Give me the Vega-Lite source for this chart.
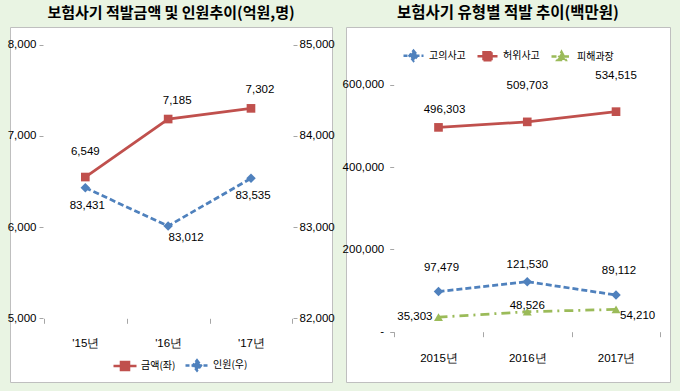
{
  "$schema": "https://vega.github.io/schema/vega-lite/v6.json",
  "padding": {"left": 6, "top": 5, "right": 11, "bottom": 8},
  "background": "#e9f4e3",
  "spacing": 14,
  "bounds": "flush",
  "resolve": {"scale": {"color": "independent"}, "legend": {"color": "independent"}},
  "datasets": {
    "left": [
      {"year": 2015, "series": "금액(좌)", "value": 6549},
      {"year": 2016, "series": "금액(좌)", "value": 7185},
      {"year": 2017, "series": "금액(좌)", "value": 7302},
      {"year": 2015, "series": "인원(우)", "value": 83431},
      {"year": 2016, "series": "인원(우)", "value": 83012},
      {"year": 2017, "series": "인원(우)", "value": 83535}
    ],
    "right": [
      {"year": 2015, "series": "고의사고", "value": 97479},
      {"year": 2016, "series": "고의사고", "value": 121530},
      {"year": 2017, "series": "고의사고", "value": 89112},
      {"year": 2015, "series": "허위사고", "value": 496303},
      {"year": 2016, "series": "허위사고", "value": 509703},
      {"year": 2017, "series": "허위사고", "value": 534515},
      {"year": 2015, "series": "피해과장", "value": 35303},
      {"year": 2016, "series": "피해과장", "value": 48526},
      {"year": 2017, "series": "피해과장", "value": 54210}
    ]
  },
  "config": {
    "view": {"fill": "white", "stroke": "#bfbfbf", "strokeWidth": 1},
    "axis": {
      "labelFont": "Liberation Sans",
      "labelFontSize": 11.5,
      "labelColor": "#000000",
      "domain": false,
      "grid": false,
      "tickColor": "#a6a6a6",
      "labelOverlap": false,
      "labelFlush": false
    },
    "text": {"font": "Liberation Sans", "fontSize": 11.5, "color": "#000000"},
    "legend": {"labelFont": "Noto Sans CJK KR", "labelFontSize": 10, "labelColor": "#000000"},
    "title": {"font": "Noto Sans CJK KR", "fontSize": 15, "fontWeight": "bold", "color": "#000000", "anchor": "middle"}
  },
  "hconcat": [
    {
      "width": 322,
      "height": 355,
      "title": {"text": "보험사기 적발금액 및 인원추이(억원,명)", "offset": 6, "fontSize": 15},
      "data": {"name": "left"},
      "layer": [
        {
          "transform": [{"filter": "datum.series === '금액(좌)'"}],
          "encoding": {
            "x": {"field": "year", "type": "quantitative",
              "scale": {"domain": [2014.091, 2017.978], "nice": false, "zero": false},
              "axis": {"orient": "bottom", "offset": -63.7, "values": [2014.5, 2015, 2015.5, 2016, 2016.5, 2017, 2017.5],
                "labelExpr": "datum.value % 1 === 0 ? \"'\" + substring(toString(datum.value), 2, 4) + '년' : ''",
                "tickSize": 5, "tickOpacity": {"condition": {"test": "datum.value % 1 === 0", "value": 0}, "value": 1},
                "labelPadding": 14, "title": null}},
            "y": {"field": "value", "type": "quantitative",
              "scale": {"domain": [4302, 8194], "nice": false, "zero": false},
              "axis": {"orient": "left", "offset": -33, "values": [5000, 6000, 7000, 8000], "format": ",.0f", "tickSize": 4, "labelPadding": 3, "title": null}}
          },
          "layer": [
            {"data": {"values": [{}]}, "mark": {"type": "rule", "color": "#a6a6a6", "strokeWidth": 1},
              "encoding": {"x": {"datum": 2014.5, "type": "quantitative"}, "y": {"datum": 5000, "type": "quantitative"}, "y2": {"datum": 8000}}},
            {"data": {"values": [{}]}, "mark": {"type": "rule", "color": "#a6a6a6", "strokeWidth": 1},
              "encoding": {"x": {"datum": 2017.5, "type": "quantitative"}, "y": {"datum": 5000, "type": "quantitative"}, "y2": {"datum": 8000}}},
            {"data": {"values": [{}]}, "mark": {"type": "rule", "color": "#a6a6a6", "strokeWidth": 1},
              "encoding": {"x": {"datum": 2014.5, "type": "quantitative"}, "x2": {"datum": 2017.5}, "y": {"datum": 5000, "type": "quantitative"}}},
            {"mark": {"type": "line", "strokeWidth": 2.75},
              "encoding": {"color": {"field": "series", "type": "nominal",
                "scale": {"domain": ["금액(좌)", "인원(우)"], "range": ["#c0504d", "#4f81bd"]},
                "legend": {"orient": "none", "legendX": 102, "legendY": 325, "direction": "horizontal", "title": null,
                  "symbolSize": 529, "labelOffset": 3, "columnPadding": 4,
                  "encode": {"symbols": {"update": {
                    "shape": {"signal": "datum.value === '금액(좌)' ? 'M-1,0H1M-0.35,-0.35H0.35V0.35H-0.35Z' : 'M-1,0H1M0,-0.45L0.35,0L0,0.45L-0.35,0Z'"},
                    "fill": {"signal": "datum.value === '금액(좌)' ? '#c0504d' : '#4f81bd'"},
                    "stroke": {"signal": "datum.value === '금액(좌)' ? '#c0504d' : '#4f81bd'"},
                    "strokeDash": {"signal": "datum.value === '금액(좌)' ? [1,0] : [4,2]"},
                    "strokeWidth": {"value": 2.5},
                    "opacity": {"value": 1}
                  }}}}}}},
            {"mark": {"type": "point", "shape": "square", "filled": true, "size": 75, "opacity": 1, "color": "#c0504d"}},
            {"transform": [{"filter": "datum.year === 2015"}],
              "mark": {"type": "text", "dy": -25},
              "encoding": {"text": {"field": "value", "type": "quantitative", "format": ","}}},
            {"transform": [{"filter": "datum.year !== 2015"}],
              "mark": {"type": "text", "dy": -18, "dx": 9},
              "encoding": {"text": {"field": "value", "type": "quantitative", "format": ","}}}
          ]
        },
        {
          "transform": [{"filter": "datum.series === '인원(우)'"}],
          "encoding": {
            "x": {"field": "year", "type": "quantitative",
              "scale": {"domain": [2014.091, 2017.978], "nice": false, "zero": false},
              "axis": {"orient": "bottom", "offset": -63.7, "values": [2014.5, 2015, 2015.5, 2016, 2016.5, 2017, 2017.5],
                "labelExpr": "datum.value % 1 === 0 ? \"'\" + substring(toString(datum.value), 2, 4) + '년' : ''",
                "tickSize": 5, "tickOpacity": {"condition": {"test": "datum.value % 1 === 0", "value": 0}, "value": 1},
                "labelPadding": 14, "title": null}},
            "y": {"field": "value", "type": "quantitative",
              "scale": {"domain": [81302, 85194], "nice": false, "zero": false},
              "axis": {"orient": "right", "offset": -39, "values": [82000, 83000, 84000, 85000], "format": ",.0f", "tickSize": 4, "labelPadding": 2, "title": null}}
          },
          "layer": [
            {"mark": {"type": "line", "strokeWidth": 2.75, "strokeDash": [6, 3]},
              "encoding": {"color": {"field": "series", "type": "nominal",
                "scale": {"domain": ["금액(좌)", "인원(우)"], "range": ["#c0504d", "#4f81bd"]}}}},
            {"mark": {"type": "point", "shape": "diamond", "filled": true, "size": 90, "opacity": 1, "color": "#4f81bd"}},
            {"transform": [{"filter": "datum.year !== 2016"}],
              "mark": {"type": "text", "dy": 18, "dx": 2},
              "encoding": {"text": {"field": "value", "type": "quantitative", "format": ","}}},
            {"transform": [{"filter": "datum.year === 2016"}],
              "mark": {"type": "text", "dy": 12, "dx": 18},
              "encoding": {"text": {"field": "value", "type": "quantitative", "format": ","}}}
          ]
        }
      ],
      "resolve": {"scale": {"y": "independent"}, "axis": {"y": "independent"}}
    },
    {
      "width": 324,
      "height": 355,
      "title": {"text": "보험사기 유형별 적발 추이(백만원)", "offset": 6, "fontSize": 15.5},
      "data": {"name": "right"},
      "encoding": {
        "x": {"field": "year", "type": "quantitative",
          "scale": {"domain": [2013.958, 2017.608], "nice": false, "zero": false},
          "axis": {"orient": "bottom", "offset": -50.3, "values": [2014.5, 2015, 2015.5, 2016, 2016.5, 2017, 2017.5],
            "labelExpr": "datum.value % 1 === 0 ? toString(datum.value) + '년' : ''",
            "tickSize": 5, "tickOpacity": {"condition": {"test": "datum.value % 1 === 0", "value": 0}, "value": 1},
            "labelPadding": 16, "title": null}},
        "y": {"field": "value", "type": "quantitative",
          "scale": {"domain": [-122200, 740160], "nice": false, "zero": false},
          "axis": {"orient": "left", "offset": -47.7, "values": [0, 200000, 400000, 600000], "format": ",.0f",
            "labelExpr": "datum.value === 0 ? '-' : datum.label", "tickSize": 4, "labelPadding": 6, "title": null}}
      },
      "layer": [
        {"data": {"values": [{}]}, "mark": {"type": "rule", "color": "#a6a6a6", "strokeWidth": 1},
          "encoding": {"x": {"datum": 2014.5, "type": "quantitative"}, "y": {"datum": 0, "type": "quantitative"}, "y2": {"datum": 600000}}},
        {"data": {"values": [{}]}, "mark": {"type": "rule", "color": "#a6a6a6", "strokeWidth": 1},
          "encoding": {"x": {"datum": 2014.5, "type": "quantitative"}, "x2": {"datum": 2017.5}, "y": {"datum": 0, "type": "quantitative"}}},
        {"mark": {"type": "line", "strokeWidth": 2.75},
          "transform": [{"filter": "datum.series === '허위사고'"}],
          "encoding": {"color": {"field": "series", "type": "nominal",
            "scale": {"domain": ["고의사고", "허위사고", "피해과장"], "range": ["#4f81bd", "#c0504d", "#9bbb59"]},
            "legend": {"orient": "none", "legendX": 56, "legendY": 17, "direction": "horizontal", "title": null,
              "symbolSize": 400, "labelOffset": 4, "columnPadding": 6, "values": ["고의사고", "허위사고", "피해과장"],
              "encode": {"symbols": {"update": {
                "shape": {"signal": "datum.value === '허위사고' ? 'M-1,0H1M-0.4,-0.4H0.4V0.4H-0.4Z' : datum.value === '고의사고' ? 'M-1,0H1M0,-0.5L0.4,0L0,0.5L-0.4,0Z' : 'M-1,0H1M0,-0.45L0.42,0.35H-0.42Z'"},
                "fill": {"signal": "datum.value === '허위사고' ? '#c0504d' : datum.value === '고의사고' ? '#4f81bd' : '#9bbb59'"},
                "stroke": {"signal": "datum.value === '허위사고' ? '#c0504d' : datum.value === '고의사고' ? '#4f81bd' : '#9bbb59'"},
                "strokeDash": {"signal": "datum.value === '허위사고' ? [1,0] : datum.value === '고의사고' ? [4,2] : [5,3,1.5,3]"},
                "strokeWidth": {"value": 2.5},
                "opacity": {"value": 1}
              }}}}}}},
        {"mark": {"type": "line", "strokeWidth": 2.75, "strokeDash": [6, 3]},
          "transform": [{"filter": "datum.series === '고의사고'"}],
          "encoding": {"color": {"field": "series", "type": "nominal",
            "scale": {"domain": ["고의사고", "허위사고", "피해과장"], "range": ["#4f81bd", "#c0504d", "#9bbb59"]}}}},
        {"mark": {"type": "line", "strokeWidth": 2.75, "strokeDash": [9, 5, 2, 5]},
          "transform": [{"filter": "datum.series === '피해과장'"}],
          "encoding": {"color": {"field": "series", "type": "nominal",
            "scale": {"domain": ["고의사고", "허위사고", "피해과장"], "range": ["#4f81bd", "#c0504d", "#9bbb59"]}}}},
        {"transform": [{"filter": "datum.series === '허위사고'"}],
          "mark": {"type": "point", "shape": "square", "filled": true, "size": 75, "opacity": 1, "color": "#c0504d"}},
        {"transform": [{"filter": "datum.series === '고의사고'"}],
          "mark": {"type": "point", "shape": "diamond", "filled": true, "size": 90, "opacity": 1, "color": "#4f81bd"}},
        {"transform": [{"filter": "datum.series === '피해과장'"}],
          "mark": {"type": "point", "shape": "triangle-up", "filled": true, "size": 80, "opacity": 1, "color": "#9bbb59"}},
        {"transform": [{"filter": "datum.series === '허위사고' && datum.year === 2015"}],
          "mark": {"type": "text", "dy": -17, "dx": 6},
          "encoding": {"text": {"field": "value", "type": "quantitative", "format": ","}}},
        {"transform": [{"filter": "datum.series === '허위사고' && datum.year !== 2015"}],
          "mark": {"type": "text", "dy": -36},
          "encoding": {"text": {"field": "value", "type": "quantitative", "format": ","}}},
        {"transform": [{"filter": "datum.series === '고의사고' && datum.year !== 2016"}],
          "mark": {"type": "text", "dy": -24, "dx": 3},
          "encoding": {"text": {"field": "value", "type": "quantitative", "format": ","}}},
        {"transform": [{"filter": "datum.series === '고의사고' && datum.year === 2016"}],
          "mark": {"type": "text", "dy": -17},
          "encoding": {"text": {"field": "value", "type": "quantitative", "format": ","}}},
        {"transform": [{"filter": "datum.series === '피해과장' && datum.year === 2015"}],
          "mark": {"type": "text", "dx": -6, "align": "right"},
          "encoding": {"text": {"field": "value", "type": "quantitative", "format": ","}}},
        {"transform": [{"filter": "datum.series === '피해과장' && datum.year === 2016"}],
          "mark": {"type": "text", "dy": -6},
          "encoding": {"text": {"field": "value", "type": "quantitative", "format": ","}}},
        {"transform": [{"filter": "datum.series === '피해과장' && datum.year === 2017"}],
          "mark": {"type": "text", "dx": 4, "dy": 7, "align": "left"},
          "encoding": {"text": {"field": "value", "type": "quantitative", "format": ","}}}
      ]
    }
  ]
}
